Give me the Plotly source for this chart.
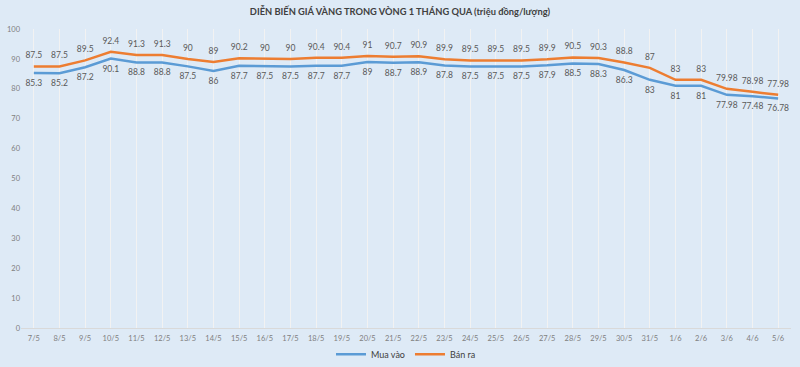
import plotly.graph_objects as go

categories = ["7/5","8/5","9/5","10/5","11/5","12/5","13/5","14/5","15/5","16/5","17/5","18/5","19/5","20/5","21/5","22/5","23/5","24/5","25/5","26/5","27/5","28/5","29/5","30/5","31/5","1/6","2/6","3/6","4/6","5/6"]
mua_vao = [85.3,85.2,87.2,90.1,88.8,88.8,87.5,86,87.7,87.5,87.5,87.7,87.7,89,88.7,88.9,87.8,87.5,87.5,87.5,87.9,88.5,88.3,86.3,83,81,81,77.98,77.48,76.78]
ban_ra = [87.5,87.5,89.5,92.4,91.3,91.3,90,89,90.2,90,90,90.4,90.4,91,90.7,90.9,89.9,89.5,89.5,89.5,89.9,90.5,90.3,88.8,87,83,83,79.98,78.98,77.98]
y_ticks = [0,10,20,30,40,50,60,70,80,90,100]

BG = "#DEEAF6"
FONT = "Lato"
BLUE = "#5B9BD5"
ORANGE = "#ED7D31"

fig = go.Figure()
# lines (legend entries)
fig.add_trace(go.Scatter(x=categories, y=mua_vao, name="Mua vào", mode="lines",
                         line=dict(color=BLUE, width=2.5)))
fig.add_trace(go.Scatter(x=categories, y=ban_ra, name="Bán ra", mode="lines",
                         line=dict(color=ORANGE, width=2.5)))
# data labels
fig.add_trace(go.Scatter(
    x=categories, y=mua_vao, mode="markers+text", showlegend=False, hoverinfo="skip",
    marker=dict(size=9, color="rgba(0,0,0,0)"),
    text=[f"{v:g}" for v in mua_vao], textposition="bottom center",
    textfont=dict(size=8.5, color="#595959", family=FONT), cliponaxis=False,
))
fig.add_trace(go.Scatter(
    x=categories, y=ban_ra, mode="markers+text", showlegend=False, hoverinfo="skip",
    marker=dict(size=8, color="rgba(0,0,0,0)"),
    text=[f"{v:g}" for v in ban_ra], textposition="top center",
    textfont=dict(size=8.5, color="#595959", family=FONT), cliponaxis=False,
))

fig.update_layout(
    width=800, height=367,
    paper_bgcolor=BG, plot_bgcolor=BG,
    margin=dict(l=21, r=9, t=29, b=39, autoexpand=False),
    title=dict(text="<b>DIỄN BIẾN GIÁ VÀNG TRONG VÒNG 1 THÁNG QUA (triệu đồng/lượng)</b>",
               x=0.5, xanchor="center", y=0.968, yanchor="middle",
               font=dict(size=9.3, color="#404040", family=FONT)),
    showlegend=True,
    legend=dict(orientation="h", x=0.5, xanchor="center", yref="container", y=0.035, yanchor="middle",
                font=dict(size=9, color="#404040", family=FONT),
                itemwidth=30, tracegroupgap=0, bgcolor="rgba(0,0,0,0)"),
    font=dict(family=FONT),
)
fig.update_xaxes(
    type="category", range=[-0.5, len(categories) - 0.5], automargin=False,
    showgrid=True, gridcolor="#F2F2F2", gridwidth=1,
    showline=False, zeroline=False,
    tickfont=dict(size=7.5, color="#7F7F7F"), ticks="", ticklabelstandoff=4,
)
fig.update_yaxes(
    range=[0, 100], tickvals=y_ticks, showgrid=False, automargin=False,
    zeroline=True, zerolinecolor="#D9D9D9", zerolinewidth=1,
    showline=False, tickfont=dict(size=7.5, color="#7F7F7F"), ticks="",
)
fig.write_html(
    "out.html",
    config={"displayModeBar": False},
    post_script="document.body.style.margin='0';document.body.style.background='#DEEAF6';",
)
